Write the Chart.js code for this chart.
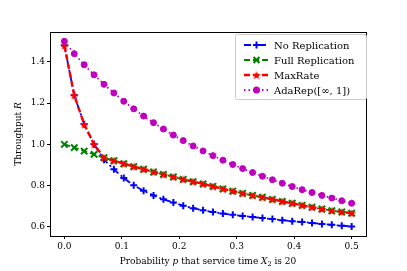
<!DOCTYPE html>
<html lang="en">
<head>
<meta charset="UTF-8">
<title>Throughput</title>
<style>
  body { margin: 0; background: #fff; }
  #wrap { width: 407px; height: 271px; }
</style>
</head>
<body>
<div id="wrap"><canvas id="myChart"></canvas></div>
<script src="https://cdn.jsdelivr.net/npm/chart.js"></script>
<script>
// probability p (x values)
const probs = [0, 0.0172, 0.0345, 0.0517, 0.069, 0.0862, 0.1034, 0.1207, 0.1379, 0.1552,
  0.1724, 0.1897, 0.2069, 0.2241, 0.2414, 0.2586, 0.2759, 0.2931, 0.3103, 0.3276,
  0.3448, 0.3621, 0.3793, 0.3966, 0.4138, 0.431, 0.4483, 0.4655, 0.4828, 0.5];
const noRep = [1.48, 1.238, 1.097, 1.0, 0.925, 0.879, 0.836, 0.801, 0.774, 0.752,
  0.733, 0.717, 0.702, 0.690, 0.680, 0.671, 0.664, 0.658, 0.652, 0.647,
  0.642, 0.637, 0.632, 0.627, 0.623, 0.618, 0.613, 0.609, 0.605, 0.601];
const fullRep = [1.0, 0.984, 0.967, 0.951, 0.935, 0.921, 0.906, 0.892, 0.879, 0.866,
  0.854, 0.842, 0.830, 0.819, 0.808, 0.796, 0.784, 0.773, 0.762, 0.752,
  0.743, 0.733, 0.723, 0.714, 0.704, 0.695, 0.686, 0.678, 0.672, 0.666];
const maxRate = [1.48, 1.238, 1.097, 1.0, 0.935, 0.921, 0.906, 0.892, 0.879, 0.866,
  0.854, 0.842, 0.830, 0.819, 0.808, 0.796, 0.784, 0.773, 0.762, 0.752,
  0.743, 0.733, 0.723, 0.714, 0.704, 0.695, 0.686, 0.678, 0.672, 0.666];
const adaRep = [1.5, 1.44, 1.386, 1.337, 1.291, 1.249, 1.209, 1.172, 1.137, 1.105,
  1.074, 1.045, 1.018, 0.992, 0.968, 0.945, 0.923, 0.902, 0.882, 0.863,
  0.845, 0.828, 0.811, 0.795, 0.780, 0.766, 0.752, 0.739, 0.726, 0.714];
const xTicks = [0, 0.1, 0.2, 0.3, 0.4, 0.5];
const yTicks = [0.6, 0.8, 1.0, 1.2, 1.4];
const seriesNames = ['No Replication', 'Full Replication', 'MaxRate', 'AdaRep([\u221e, 1])'];

const FONT = 'DejaVu Serif';

// filled 5 point star like matplotlib '*'
function makeStar(color, r) {
  const c = document.createElement('canvas');
  const s = Math.ceil(r * 2 + 2);
  c.width = s; c.height = s;
  const g = c.getContext('2d');
  g.fillStyle = color;
  g.beginPath();
  for (let i = 0; i < 10; i++) {
    const rad = i % 2 == 0 ? r : r * 0.42;
    const a = -Math.PI / 2 + i * Math.PI / 5;
    const px = s / 2 + rad * Math.cos(a), py = s / 2 + rad * Math.sin(a) + 0.5;
    if (i == 0) g.moveTo(px, py); else g.lineTo(px, py);
  }
  g.closePath();
  g.fill();
  return c;
}
const starImg = makeStar('#ff0000', 4.6);

function pts(ys) { return ys.map((y, i) => ({ x: probs[i], y: y })); }

const styles = [
  { color: '#0000ff', dash: [7, 3, 2, 3], marker: 'cross', width: 1.8, r: 3.5, bw: 2 },
  { color: '#008000', dash: [6, 3], marker: 'crossRot', width: 1.8, r: 4.5, bw: 2 },
  { color: '#ff0000', dash: [6, 3], marker: starImg, width: 2.4, r: 4, bw: 1 },
  { color: '#bf00bf', dash: [1.5, 3], marker: 'circle', width: 1.8, r: 3, bw: 1 }
];

function drawMarker(ctx, st, x, y) {
  ctx.save();
  ctx.setLineDash([]);
  ctx.strokeStyle = st.color; ctx.fillStyle = st.color; ctx.lineWidth = 2;
  if (st.marker == 'cross') {
    ctx.beginPath(); ctx.moveTo(x - 3.5, y); ctx.lineTo(x + 3.5, y); ctx.moveTo(x, y - 3.5); ctx.lineTo(x, y + 3.5); ctx.stroke();
  } else if (st.marker == 'crossRot') {
    ctx.beginPath(); ctx.moveTo(x - 3, y - 3); ctx.lineTo(x + 3, y + 3); ctx.moveTo(x + 3, y - 3); ctx.lineTo(x - 3, y + 3); ctx.stroke();
  } else if (st.marker == 'circle') {
    ctx.beginPath(); ctx.arc(x, y, 3.5, 0, Math.PI * 2); ctx.fill();
  } else {
    ctx.drawImage(st.marker, x - st.marker.width / 2, y - st.marker.height / 2);
  }
  ctx.restore();
}

const decor = {
  id: 'decor',
  beforeDraw(chart) {
    const ctx = chart.ctx;
    ctx.save();
    ctx.fillStyle = '#fff';
    ctx.fillRect(0, 0, chart.width, chart.height);
    ctx.restore();
  },
  afterDraw(chart) {
    const ctx = chart.ctx, a = chart.chartArea;
    ctx.save();
    // frame
    ctx.strokeStyle = '#000'; ctx.lineWidth = 1;
    ctx.strokeRect(Math.round(a.left) + 0.5, Math.round(a.top) + 0.5, Math.round(a.right - a.left), Math.round(a.bottom - a.top));

    // x label with italic parts
    ctx.fillStyle = '#000';
    ctx.textBaseline = 'alphabetic';
    const parts = [
      ['Probability ', ''], ['p', 'italic '], [' that service time ', ''], ['X', 'italic '], ['2', 'sub'], [' is 20', '']
    ];
    let total = 0;
    parts.forEach(p => {
      ctx.font = (p[1] == 'sub' ? '6.5px ' : p[1] + '9px ') + FONT;
      total += ctx.measureText(p[0]).width;
    });
    let x = (chart.scales.x.getPixelForValue(0) + chart.scales.x.getPixelForValue(0.5)) / 2 - total / 2;
    const by = 264;
    parts.forEach(p => {
      ctx.font = (p[1] == 'sub' ? '6.5px ' : p[1] + '9px ') + FONT;
      ctx.fillText(p[0], x, p[1] == 'sub' ? by + 2 : by);
      x += ctx.measureText(p[0]).width;
    });

    // y label
    ctx.save();
    ctx.translate(21, (a.top + a.bottom) / 2);
    ctx.rotate(-Math.PI / 2);
    const t1 = 'Throughput ';
    ctx.font = 'italic 9px ' + FONT;
    const w2 = ctx.measureText('R').width;
    ctx.font = '9px ' + FONT;
    const w1 = ctx.measureText(t1).width;
    ctx.fillText(t1, -(w1 + w2) / 2, 0);
    ctx.font = 'italic 9px ' + FONT;
    ctx.fillText('R', -(w1 + w2) / 2 + w1, 0);
    ctx.restore();

    // legend
    const lx = 235, ly = 34, lw = 131, lh = 65;
    ctx.fillStyle = 'rgba(255,255,255,0.8)';
    ctx.strokeStyle = '#cccccc';
    ctx.lineWidth = 1;
    ctx.beginPath();
    ctx.roundRect(lx + 0.5, ly + 0.5, lw, lh, 2);
    ctx.fill(); ctx.stroke();
    ctx.font = '10px ' + FONT;
    ctx.textBaseline = 'middle';
    styles.forEach((st, i) => {
      const yy = 45 + i * 15;
      ctx.save();
      ctx.strokeStyle = st.color; ctx.lineWidth = st.width;
      ctx.setLineDash(st.dash);
      ctx.beginPath(); ctx.moveTo(244, yy); ctx.lineTo(269, yy); ctx.stroke();
      ctx.restore();
      drawMarker(ctx, st, 256.5, yy);
      ctx.fillStyle = '#000';
      ctx.fillText(seriesNames[i], 274, yy + 1);
    });
    ctx.restore();
  }
};

const ctx = document.getElementById('myChart');
const series = [noRep, fullRep, maxRate, adaRep];
const myChart = new Chart(ctx, {
  type: 'line',
  data: {
    datasets: series.map((ys, i) => ({
      label: seriesNames[i],
      data: pts(ys),
      borderColor: styles[i].color,
      backgroundColor: styles[i].color,
      borderWidth: styles[i].width,
      borderDash: styles[i].dash,
      pointStyle: styles[i].marker,
      pointRadius: styles[i].r,
      pointBorderWidth: styles[i].bw,
      pointBackgroundColor: styles[i].color,
      pointBorderColor: styles[i].color,
      fill: false,
      tension: 0,
      order: 3 - i
    }))
  },
  options: {
    animation: false,
    responsive: true,
    maintainAspectRatio: false,
    layout: { padding: { left: 0, top: 32, right: 41, bottom: 0 } },
    plugins: { legend: { display: false }, tooltip: { enabled: false } },
    scales: {
      x: {
        type: 'linear', min: -0.025, max: 0.525,
        afterBuildTicks: s => { s.ticks = xTicks.map(v => ({ value: v })); },
        afterFit: s => { s.height = 35; },
        grid: { drawOnChartArea: false, drawTicks: true, tickLength: 3, color: '#000' },
        border: { display: false },
        ticks: { color: '#000', padding: 2, maxRotation: 0, font: { family: FONT, size: 9 }, callback: v => v.toFixed(1) }
      },
      y: {
        type: 'linear', min: 0.555, max: 1.545,
        afterBuildTicks: s => { s.ticks = yTicks.map(v => ({ value: v })); },
        afterFit: s => { s.width = 50; },
        grid: { drawOnChartArea: false, drawTicks: true, tickLength: 3, color: '#000' },
        border: { display: false },
        ticks: { color: '#000', padding: 2, font: { family: FONT, size: 9 }, callback: v => v.toFixed(1) }
      }
    }
  },
  plugins: [decor]
});
</script>
</body>
</html>
